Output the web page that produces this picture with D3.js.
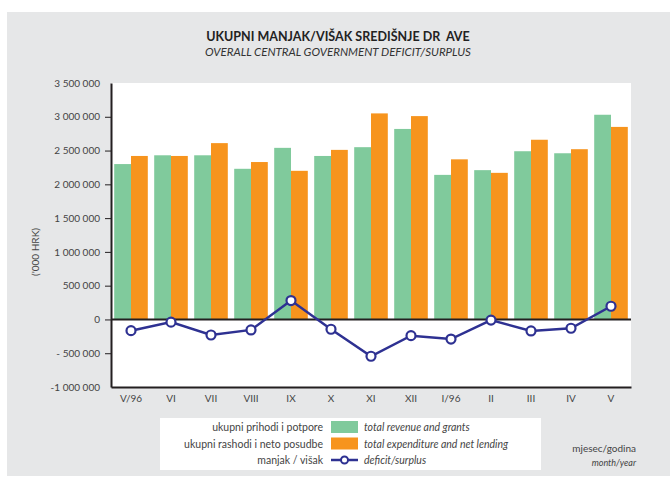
<!DOCTYPE html>
<html>
<head>
<meta charset="utf-8">
<script src="https://cdn.jsdelivr.net/npm/d3@7"></script>
<style>
  body { margin: 0; background: #fff; }
  text { font-family: Lato, "Open Sans", sans-serif; fill: #444; }
</style>
</head>
<body>
<div id="chart"></div>
<script>
// data
var months = ["V/96", "VI", "VII", "VIII", "IX", "X", "XI", "XII", "I/96", "II", "III", "IV", "V"];
var revenue = [2300000, 2430000, 2430000, 2230000, 2540000, 2420000, 2550000, 2820000, 2140000, 2210000, 2490000, 2460000, 3030000];
var expenditure = [2420000, 2420000, 2610000, 2330000, 2200000, 2510000, 3050000, 3010000, 2370000, 2170000, 2660000, 2520000, 2850000];
var balance = [-166000, -40000, -230000, -155000, 280000, -145000, -545000, -240000, -290000, -10000, -170000, -130000, 195000];
var yTicks = [-1000000, -500000, 0, 500000, 1000000, 1500000, 2000000, 2500000, 3000000, 3500000];

var svgWidth = 670;
var svgHeight = 480;

var margin = { top: 83, right: 39, bottom: 93, left: 111 };
var width = svgWidth - margin.left - margin.right;
var height = svgHeight - margin.top - margin.bottom;

var svg = d3.select("#chart")
  .append("svg")
  .attr("width", svgWidth)
  .attr("height", svgHeight);

// grey panel
svg.append("rect")
  .attr("x", 7)
  .attr("y", 12)
  .attr("width", svgWidth - 7)
  .attr("height", 464)
  .attr("fill", "#e6e7e8");

// titles
svg.append("text")
  .attr("x", 338)
  .attr("y", 41)
  .attr("text-anchor", "middle")
  .style("font-size", "12.5px")
  .style("font-weight", "bold")
  .style("fill", "#222")
  .text("UKUPNI MANJAK/VIŠAK SREDIŠNJE DR\u00a0\u00a0AVE");

svg.append("text")
  .attr("x", 338)
  .attr("y", 56)
  .attr("text-anchor", "middle")
  .style("font-size", "11.5px")
  .style("font-style", "italic")
  .style("fill", "#333")
  .text("OVERALL CENTRAL GOVERNMENT DEFICIT/SURPLUS");

var chartGroup = svg.append("g")
  .attr("transform", `translate(${margin.left}, ${margin.top})`);

chartGroup.append("rect")
  .attr("width", width)
  .attr("height", height)
  .attr("fill", "#fff");

// scales
var xBand = d3.scaleBand()
  .domain(months)
  .range([0, width])
  .paddingInner(0.16)
  .paddingOuter(0.08);

var xSub = d3.scaleBand()
  .domain(["rev", "exp"])
  .range([0, xBand.bandwidth()]);

var yLinearScale = d3.scaleLinear()
  .domain([-1000000, 3500000])
  .range([height, 0]);

var loc = d3.formatLocale({ decimal: ",", thousands: "\u00a0", grouping: [3], currency: ["", ""] });
var fmt = loc.format(",");
function tickFormat(d) {
  if (d === 0) return "0";
  if (d === -1000000) return "-" + fmt(-d);
  if (d < 0) return "- " + fmt(-d);
  return fmt(d);
}

// bars
var groups = chartGroup.selectAll(".month")
  .data(months)
  .enter()
  .append("g")
  .attr("transform", d => `translate(${xBand(d)}, 0)`);

groups.append("rect")
  .attr("x", xSub("rev"))
  .attr("width", xSub.bandwidth())
  .attr("y", (d, i) => yLinearScale(revenue[i]))
  .attr("height", (d, i) => yLinearScale(0) - yLinearScale(revenue[i]))
  .attr("fill", "#80ca9c");

groups.append("rect")
  .attr("x", xSub("exp"))
  .attr("width", xSub.bandwidth())
  .attr("y", (d, i) => yLinearScale(expenditure[i]))
  .attr("height", (d, i) => yLinearScale(0) - yLinearScale(expenditure[i]))
  .attr("fill", "#f7941d");

// zero line and x axis line
chartGroup.append("line")
  .attr("x1", 0).attr("x2", width)
  .attr("y1", yLinearScale(0)).attr("y2", yLinearScale(0))
  .attr("stroke", "#231f20")
  .attr("stroke-width", 2);

var bottomAxis = d3.axisBottom(xBand).tickSize(0).tickPadding(8);
var xAxis = chartGroup.append("g")
  .attr("transform", `translate(0, ${height})`)
  .call(bottomAxis);
xAxis.select(".domain").attr("stroke", "#231f20").attr("stroke-width", 2);
xAxis.selectAll("text")
  .style("font-family", "Lato, sans-serif")
  .style("font-size", "10px")
  .style("fill", "#444");

var leftAxis = d3.axisLeft(yLinearScale)
  .tickValues(yTicks)
  .tickFormat(tickFormat)
  .tickSize(6)
  .tickSizeOuter(0)
  .tickPadding(5);
var yAxis = chartGroup.append("g").call(leftAxis);
yAxis.select(".domain").attr("stroke", "#231f20").attr("stroke-width", 2);
yAxis.selectAll(".tick line").attr("stroke", "#231f20");
yAxis.selectAll(".tick")
  .filter(d => d === 3500000 || d === -1000000)
  .select("line").remove();
yAxis.selectAll("text")
  .style("font-family", "Lato, sans-serif")
  .style("font-size", "10px")
  .style("fill", "#444");

svg.append("text")
  .attr("transform", "rotate(-90)")
  .attr("x", -252)
  .attr("y", 39)
  .attr("text-anchor", "middle")
  .style("font-size", "10px")
  .text("('000 HRK)");

// deficit / surplus line
var line = d3.line()
  .x((d, i) => xBand(months[i]) + xBand.bandwidth() / 2)
  .y(d => yLinearScale(d));

chartGroup.append("path")
  .datum(balance)
  .attr("d", line)
  .attr("fill", "none")
  .attr("stroke", "#2e3192")
  .attr("stroke-width", 2.5);

chartGroup.selectAll(".dot")
  .data(balance)
  .enter()
  .append("circle")
  .attr("cx", (d, i) => xBand(months[i]) + xBand.bandwidth() / 2)
  .attr("cy", d => yLinearScale(d))
  .attr("r", 4.5)
  .attr("fill", "#fff")
  .attr("stroke", "#2e3192")
  .attr("stroke-width", 2.2);

// legend
var legend = svg.append("g");
legend.append("rect")
  .attr("x", 160).attr("y", 418)
  .attr("width", 381).attr("height", 52)
  .attr("fill", "#fff");

var legendRows = [
  { hr: "ukupni prihodi i potpore", en: "total revenue and grants", type: "rev" },
  { hr: "ukupni rashodi i neto posudbe", en: "total expenditure and net lending", type: "exp" },
  { hr: "manjak / višak", en: "deficit/surplus", type: "line" }
];

legendRows.forEach(function(row, i) {
  var cy = 427 + i * 16.5;
  legend.append("text")
    .attr("x", 323).attr("y", cy + 4)
    .attr("text-anchor", "end")
    .style("font-size", "10.5px")
    .text(row.hr);
  legend.append("text")
    .attr("x", 364).attr("y", cy + 4)
    .style("font-size", "10.5px")
    .style("font-style", "italic")
    .text(row.en);
  if (row.type === "line") {
    legend.append("line")
      .attr("x1", 331).attr("x2", 358)
      .attr("y1", cy).attr("y2", cy)
      .attr("stroke", "#2e3192").attr("stroke-width", 2.5);
    legend.append("circle")
      .attr("cx", 344.5).attr("cy", cy).attr("r", 3.5)
      .attr("fill", "#fff").attr("stroke", "#2e3192").attr("stroke-width", 2);
  } else {
    legend.append("rect")
      .attr("x", 331).attr("y", cy - 6)
      .attr("width", 27).attr("height", 12)
      .attr("fill", row.type === "rev" ? "#80ca9c" : "#f7941d");
  }
});

svg.append("text")
  .attr("x", 636).attr("y", 452)
  .attr("text-anchor", "end")
  .style("font-size", "10px")
  .text("mjesec/godina");

svg.append("text")
  .attr("x", 636).attr("y", 466)
  .attr("text-anchor", "end")
  .style("font-size", "9px")
  .style("font-style", "italic")
  .text("month/year");
</script>
</body>
</html>
